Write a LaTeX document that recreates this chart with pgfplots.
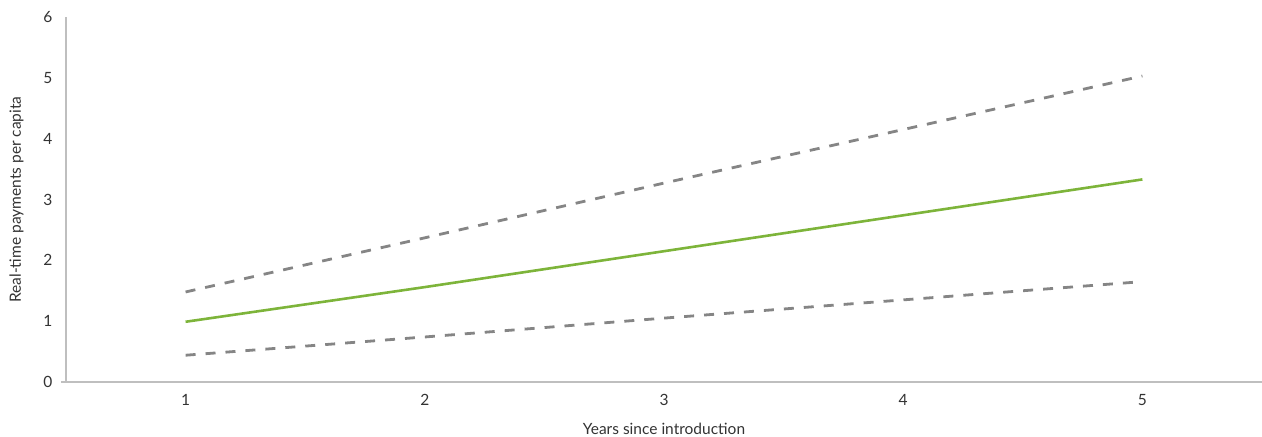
\documentclass[border=0pt]{standalone}
\usepackage{pgfplots}
\pgfplotsset{compat=1.18}
\usepackage{fontspec}
\setmainfont{Lato}
\definecolor{ingreen}{HTML}{7DB43A}
\definecolor{dashgray}{HTML}{858585}
\definecolor{axgray}{HTML}{BFBFBF}
\definecolor{txtgray}{HTML}{333333}
\begin{document}
\begin{tikzpicture}
\begin{axis}[
  scale only axis,
  width=1196pt, height=365pt,
  xmin=0.5, xmax=5.5, ymin=0, ymax=6,
  axis x line*=bottom, axis y line*=left,
  axis line style={axgray, line width=1.3pt},
  xtick={1,2,3,4,5}, ytick={0,1,2,3,4,5,6},
  major tick length=0pt,
  extra y ticks={0}, extra y tick labels={},
  extra y tick style={major tick length=5pt, tick style={axgray, line width=1.3pt}, tick align=outside},
  tick label style={font=\fontsize{15.5}{18}\selectfont, text=txtgray},
  /pgf/number format/assume math mode=true,
  yticklabel style={xshift=-10pt},
  xticklabel style={yshift=-9pt},
  xlabel={Years since introduction},
  ylabel={Real-time payments per capita},
  label style={font=\fontsize{15.5}{18}\selectfont, text=txtgray},
  xlabel style={yshift=-10pt},
  ylabel style={yshift=8pt},
  clip=false,
]
\addplot[ingreen, line width=2.6pt] coordinates {(1,0.99) (2,1.56) (3,2.15) (4,2.74) (5,3.33)};
\addplot[dashgray, line width=2.8pt, dash pattern=on 10pt off 10pt] coordinates {(1,1.48) (2,2.37) (3,3.27) (4,4.15) (5,5.03)};
\addplot[dashgray, line width=2.8pt, dash pattern=on 10pt off 10pt] coordinates {(1,0.44) (2,0.74) (3,1.05) (4,1.35) (5,1.65)};
\end{axis}
\pgfresetboundingbox
\path[use as bounding box] ([xshift=-66pt,yshift=-55pt]current axis.south west) rectangle ([yshift=17pt]current axis.north east);
\end{tikzpicture}
\end{document}
